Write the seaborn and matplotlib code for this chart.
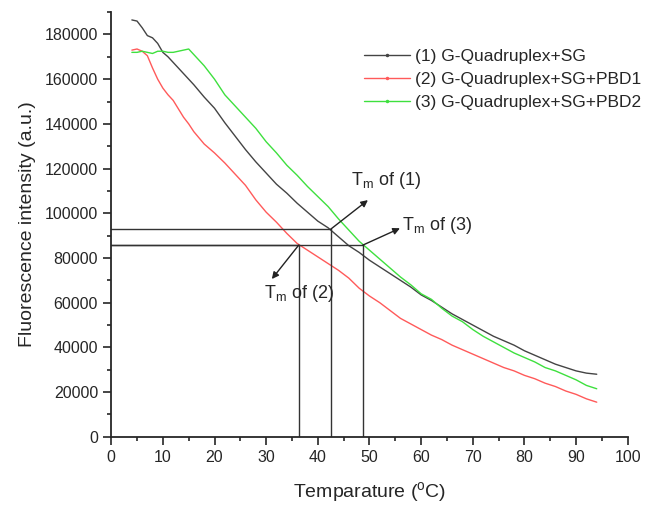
import numpy as np
import pandas as pd
import matplotlib
matplotlib.use('Agg')
import matplotlib.pyplot as plt
from matplotlib.lines import Line2D
import seaborn as sns

# 温度 (°C)
temp = [4, 5, 6, 7, 8, 9, 10, 11, 12, 14, 15, 16, 18, 20, 22, 24, 26, 28, 30, 32, 34, 36, 38, 40,
        42, 44, 46, 48, 50, 52, 54, 56, 58, 60, 62, 64, 66, 68, 70, 72, 74, 76, 78, 80,
        82, 84, 86, 88, 90, 92, 94]

# (1) G-Quadruplex+SG
sg = [186500, 186000, 183000, 179500, 178500, 176000, 172000, 170000, 167500, 162500, 160000, 157500,
      152000, 147000, 140500, 134500, 128500, 123000, 118000, 113000, 109000, 104500, 100500, 96500,
      93500, 89500, 85500, 82500, 79000, 76000, 73000, 70000, 67000, 63500, 61000, 58000, 55000, 52500,
      50000, 47500, 45000, 43000, 41000, 38500, 36500, 34500, 32500, 31000, 29500, 28500, 28000]

# (2) G-Quadruplex+SG+PBD1
pbd1 = [173000, 173500, 172500, 170500, 165000, 160000, 156000, 153000, 150500, 143000, 140000, 136500,
        131000, 127000, 122500, 117500, 112500, 106000, 100500, 96000, 91000, 86500, 83500, 80500,
        77500, 74500, 71000, 66500, 63000, 60000, 56500, 53000, 50500, 48000, 45500, 43500, 41000, 39000,
        37000, 35000, 33000, 31000, 29500, 27500, 26000, 24000, 22500, 20500, 19000, 17000, 15500]

# (3) G-Quadruplex+SG+PBD2
pbd2 = [172000, 172000, 172500, 172000, 171500, 172500, 172500, 172000, 172000, 173000, 173500, 171000,
        166000, 160000, 153000, 148000, 143000, 138000, 132000, 127000, 121500, 117000, 112000, 107500,
        103000, 97500, 92500, 87500, 83500, 79500, 75500, 71500, 68000, 64000, 61500, 57500, 54000, 51500,
        48000, 45000, 42500, 40000, 37500, 35500, 33500, 31000, 29500, 27500, 25500, 23000, 21500]

labels = ['(1) G-Quadruplex+SG', '(2) G-Quadruplex+SG+PBD1', '(3) G-Quadruplex+SG+PBD2']
colors = ['#444444', '#ff5a5a', '#3ee03e']

# Tm 点
tm_x = [42.5, 36.3, 48.7]
tm_y = [92900, 85750, 85750]
tm_text = ['T$_{\\rm m}$ of (1)', 'T$_{\\rm m}$ of (2)', 'T$_{\\rm m}$ of (3)']

df = pd.DataFrame({'temp': temp * 3,
                   'intensity': sg + pbd1 + pbd2,
                   'sample': [labels[0]] * len(temp) + [labels[1]] * len(temp) + [labels[2]] * len(temp)})

sns.set_style('ticks')
plt.rcParams['font.family'] = ['Liberation Sans', 'DejaVu Sans']
plt.rcParams['mathtext.fontset'] = 'custom'
plt.rcParams['mathtext.rm'] = 'Liberation Sans'

fig = plt.figure(figsize=(6.58, 5.05), dpi=100)
ax = fig.add_axes([0.169, 0.135, 0.785, 0.841])

sns.lineplot(data=df, x='temp', y='intensity', hue='sample', palette=colors,
             linewidth=1.0, legend=False, ax=ax)

# 辅助线
for x, y in zip(tm_x, tm_y):
    ax.plot([0, x], [y, y], color='#333333', lw=1.0)
    ax.plot([x, x], [0, y], color='#333333', lw=1.0)

# 箭头和文字
arrow_end = [(49.7, 105900), (31.1, 70600), (55.9, 93300)]
text_pos = [(46.4, 114500), (29.6, 64000), (56.3, 94500)]
for x, y, (ex, ey), (tx, ty), t in zip(tm_x, tm_y, arrow_end, text_pos, tm_text):
    ax.annotate('', xy=(ex, ey), xytext=(x, y),
                arrowprops=dict(arrowstyle='-|>', color='#222222', lw=1.0, mutation_scale=10,
                                shrinkA=0, shrinkB=0))
    ax.text(tx, ty, t, fontsize=13, ha='left', va='center')

ax.set_xlim(0, 100)
ax.set_ylim(0, 190000)
ax.set_xticks(np.arange(0, 101, 10))
ax.set_xticks(np.arange(5, 100, 10), minor=True)
ax.set_yticks(np.arange(0, 180001, 20000))
ax.set_yticks(np.arange(10000, 190001, 20000), minor=True)
ax.tick_params(axis='both', which='major', direction='out', length=6, width=1.2, labelsize=11.5)
ax.tick_params(axis='both', which='minor', direction='out', length=3, width=1.2)
for s in ['left', 'bottom']:
    ax.spines[s].set_linewidth(1.3)
sns.despine(ax=ax)

ax.set_xlabel('Temparature ($^{\\rm o}$C)', fontsize=14, labelpad=11)
ax.set_ylabel('Fluorescence intensity (a.u.)', fontsize=14, labelpad=6)

handles = [Line2D([0], [0], color=c, lw=1.0, marker='.', markersize=3) for c in colors]
ax.legend(handles, labels, loc='upper right', bbox_to_anchor=(1.056, 0.95), frameon=False,
          fontsize=12.5, handlelength=2.6, handletextpad=0.3, labelspacing=0.45)

plt.savefig('out.png', dpi=100)
